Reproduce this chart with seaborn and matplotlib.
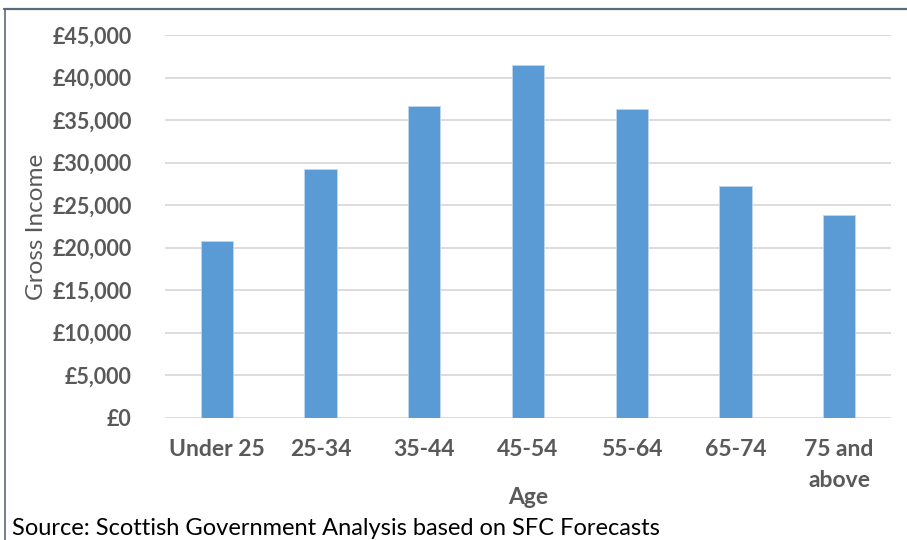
import matplotlib
matplotlib.use("Agg")
import matplotlib.pyplot as plt
from matplotlib.lines import Line2D
from matplotlib.ticker import FuncFormatter, MultipleLocator
import seaborn as sns
import pandas as pd

# Gross income per taxpayer by age band
age_groups = ["Under 25", "25-34", "35-44", "45-54", "55-64", "65-74", "75 and\nabove"]
gross_income = [20800, 29300, 36700, 41500, 36300, 27300, 23800]

df = pd.DataFrame({"Age": age_groups, "Gross Income": gross_income})

sns.set_theme(style="white")
plt.rcParams["font.family"] = ["Lato", "DejaVu Sans"]

W, H = 907, 540
fig = plt.figure(figsize=(W / 100, H / 100), dpi=100)
ax = fig.add_axes([165 / W, 1 - 417.7 / H, (891 - 165) / W, (417.7 - 35.2) / H])

bar_color = "#5B9BD5"
text_gray = "#595959"

sns.barplot(data=df, x="Age", y="Gross Income", color=bar_color, width=0.31,
            saturation=1, edgecolor="#BDD7EE", linewidth=0.6, ax=ax, zorder=3)

ax.set_ylim(0, 45000)
ax.yaxis.set_major_locator(MultipleLocator(5000))
ax.yaxis.set_major_formatter(FuncFormatter(lambda v, _: f"£{int(v):,}"))
ax.set_xlim(-0.5, len(age_groups) - 0.5)

ax.grid(axis="y", color="#D9D9D9", linewidth=1.3, zorder=0)
ax.grid(axis="x", visible=False)
for side in ["top", "right", "left", "bottom"]:
    ax.spines[side].set_visible(False)
ax.tick_params(axis="both", length=0)
ax.tick_params(axis="y", pad=24)
ax.tick_params(axis="x", pad=15)

for lbl in ax.get_yticklabels():
    lbl.set_fontweight("bold")
    lbl.set_fontsize(15.5)
    lbl.set_color(text_gray)
for lbl in ax.get_xticklabels():
    lbl.set_fontweight("bold")
    lbl.set_fontsize(16.5)
    lbl.set_color(text_gray)
    lbl.set_linespacing(1.6)

ax.set_ylabel("Gross Income", fontsize=17.5, color=text_gray, labelpad=4)
ax.set_xlabel("Age", fontsize=16.5, fontweight="bold", color=text_gray, labelpad=0)
ax.xaxis.set_label_coords(0.5, -(497 - 417.7) / (417.7 - 35.2), transform=ax.transAxes)
ax.xaxis.label.set_va("center")

# Frame around the chart area
frame_color = "#5A6A7E"
fig.add_artist(Line2D([4 / W, 1.0], [1 - 8.5 / H, 1 - 8.5 / H], color=frame_color,
                      linewidth=1.6, transform=fig.transFigure))
fig.add_artist(Line2D([4.5 / W, 4.5 / W], [0.0, 1 - 8.5 / H], color=frame_color,
                      linewidth=1.2, transform=fig.transFigure))

fig.text(12 / W, 1 - 535 / H, "Source: Scottish Government Analysis based on SFC Forecasts",
         fontsize=17, color="black", ha="left", va="baseline")

fig.savefig("out.png", dpi=100)
